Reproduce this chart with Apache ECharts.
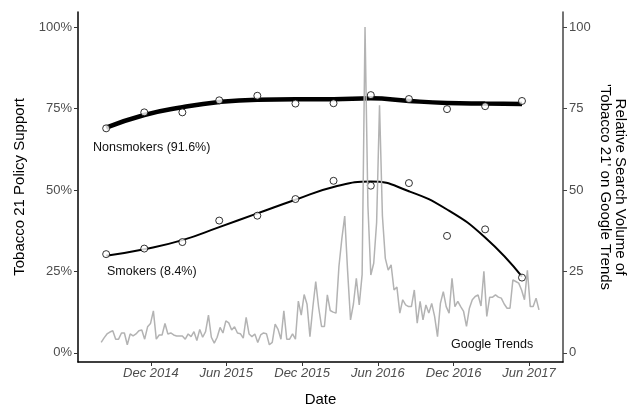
<!DOCTYPE html>
<html>
<head>
<meta charset="utf-8">
<script src="https://cdn.jsdelivr.net/npm/echarts@6/dist/echarts.min.js"></script>
<style>
  html, body { margin: 0; padding: 0; background: #fff; }
  #main { width: 629px; height: 407px; }
</style>
</head>
<body>
<div id="main"></div>
<script>
// survey waves (middle of each quarter)
var quarters = ['2014-08-15', '2014-11-15', '2015-02-15', '2015-05-15', '2015-08-15', '2015-11-15',
                '2016-02-15', '2016-05-15', '2016-08-15', '2016-11-15', '2017-02-15', '2017-05-15'];
var nonsmokers = [68.9, 73.8, 73.8, 77.5, 78.9, 76.5, 76.6, 79.1, 77.9, 74.8, 75.7, 77.3];
var nonsmokersFit = [69.1, 73.0, 75.4, 77.0, 77.7, 77.8, 77.8, 78.1, 77.3, 76.7, 76.5, 76.4];
var smokers = [30.3, 32.0, 34.0, 40.6, 42.1, 47.2, 52.8, 51.3, 52.1, 35.9, 37.9, 23.1];
var smokersFit = [29.8, 31.8, 34.6, 38.6, 42.8, 47.0, 50.9, 52.6, 49.6, 44.0, 35.4, 23.4];

// google trends, weekly from 3 Aug 2014
var trendsStart = [2014, 7, 3];
var trends = [
  3.2, 4.6, 5.8, 6.4, 6.8, 4.2, 4.2, 6.1, 6.1, 2.5,
  5.8, 5.2, 5.8, 6.8, 7.0, 4.2, 8.0, 9.0, 12.9, 4.2,
  5.5, 5.5, 9.0, 5.8, 6.1, 5.5, 5.2, 5.2, 5.2, 4.2,
  5.8, 5.0, 6.5, 3.8, 7.2, 4.8, 6.5, 11.6, 4.8, 3.0,
  4.8, 7.8, 6.1, 9.8, 9.2, 7.0, 8.0, 6.1, 5.9, 4.5,
  10.9, 5.8, 5.0, 5.8, 3.2, 5.5, 6.1, 5.9, 2.5, 3.2,
  8.8, 7.2, 4.2, 12.9, 4.2, 4.2, 5.8, 4.2, 15.9, 11.6,
  17.9, 14.9, 5.0, 14.0, 21.9, 14.0, 8.1, 8.1, 17.8, 13.0,
  12.5, 12.2, 26.5, 35.0, 42.0, 25.0, 10.1, 15.0, 22.9, 14.7,
  24.0, 100, 45, 23.9, 27.5, 40, 76, 42, 29.0, 25.4,
  27.0, 19.3, 20.2, 12.2, 16.3, 14.7, 14.2, 14.2, 19.3, 9.1,
  15.8, 10.1, 14.7, 12.2, 15.2, 11.2, 5.0, 15.2, 18.8, 14.2,
  12.2, 22.9, 14.2, 15.8, 14.2, 12.7, 8.1, 13.7, 16.3, 17.3,
  17.8, 14.4, 25.0, 11.2, 17.1, 17.1, 17.8, 17.1, 16.8, 15.0,
  13.7, 13.7, 22.4, 21.9, 21.4, 19.3, 16.3, 25.3, 14.2, 14.2,
  16.8, 13.2
];

var xTickDates = ['2014-12-01', '2015-06-01', '2015-12-01', '2016-06-01', '2016-12-01', '2017-06-01'];
var xTickLabels = ['Dec 2014', 'Jun 2015', 'Dec 2015', 'Jun 2016', 'Dec 2016', 'Jun 2017'];
var yTicks = [0, 25, 50, 75, 100];

function ts(s) {
  var p = s.split('-');
  return new Date(+p[0], +p[1] - 1, +p[2]).getTime();
}

var myChart = echarts.init(document.getElementById('main'));

var tickTs = xTickDates.map(ts);
var trendData = [];
for (var i = 0; i < trends.length; i++) {
  trendData.push([new Date(trendsStart[0], trendsStart[1], trendsStart[2] + i * 7).getTime(), trends[i]]);
}
function pair(vals) {
  return vals.map(function (v, i) { return [ts(quarters[i]), v]; });
}

var font = 'Liberation Sans, Arial, Helvetica, sans-serif';

option = {
  animation: false,
  backgroundColor: '#fff',
  textStyle: { fontFamily: font },
  grid: { left: 78, right: 66, top: 12, bottom: 45, containLabel: false, outerBoundsMode: 'none' },
  xAxis: {
    type: 'value',
    min: ts('2014-06-08'),
    max: ts('2017-08-22'),
    name: 'Date',
    nameLocation: 'middle',
    nameGap: 30,
    nameTextStyle: { color: '#000', fontSize: 15, fontFamily: font },
    splitLine: { show: false },
    axisLine: { onZero: false, lineStyle: { color: '#000', width: 1.5 } },
    axisTick: { length: 4, lineStyle: { color: '#333' }, customValues: tickTs },
    axisLabel: {
      customValues: tickTs,
      margin: 5,
      color: '#4d4d4d',
      fontSize: 13,
      fontStyle: 'italic',
      fontFamily: font,
      formatter: function (v) {
        var k = tickTs.indexOf(v);
        return k >= 0 ? xTickLabels[k] : '';
      }
    }
  },
  yAxis: [{
    type: 'value',
    min: -2.8,
    max: 104.6,
    name: 'Tobacco 21 Policy Support',
    nameLocation: 'middle',
    nameGap: 48,
    nameTextStyle: { color: '#000', fontSize: 15, fontFamily: font },
    splitLine: { show: false },
    axisLine: { show: true, onZero: false, lineStyle: { color: '#000', width: 1.5 } },
    axisTick: { show: true, length: 4, lineStyle: { color: '#333' }, customValues: yTicks },
    axisLabel: { customValues: yTicks, margin: 6, color: '#4d4d4d', fontSize: 13, fontFamily: font, formatter: '{value}%' }
  }, {
    type: 'value',
    position: 'right',
    min: -2.8,
    max: 104.6,
    splitLine: { show: false },
    axisLine: { show: true, onZero: false, lineStyle: { color: '#444', width: 1.5 } },
    axisTick: { show: true, length: 4, lineStyle: { color: '#444' }, customValues: yTicks },
    axisLabel: { customValues: yTicks, margin: 6, color: '#4d4d4d', fontSize: 13, fontFamily: font }
  }],
  graphic: [
    { type: 'text', left: 93, top: 141, style: { text: 'Nonsmokers (91.6%)', fill: '#111', font: '12.5px ' + font } },
    { type: 'text', left: 107, top: 265, style: { text: 'Smokers (8.4%)', fill: '#111', font: '12.5px ' + font } },
    { type: 'text', left: 451, top: 338, style: { text: 'Google Trends', fill: '#111', font: '12.5px ' + font } },
    // right axis title, two lines reading top to bottom
    { type: 'text', x: 620, y: 187, rotation: -Math.PI / 2,
      style: { text: 'Relative Search Volume of', fill: '#000', font: '15px ' + font, align: 'center', verticalAlign: 'middle' } },
    { type: 'text', x: 605, y: 187, rotation: -Math.PI / 2,
      style: { text: '\'Tobacco 21\' on Google Trends', fill: '#000', font: '15px ' + font, align: 'center', verticalAlign: 'middle' } }
  ],
  series: [
    {
      name: 'nonsmokers fit',
      type: 'line',
      smooth: 0.5,
      showSymbol: false,
      lineStyle: { color: '#000', width: 4.5 },
      data: pair(nonsmokersFit),
      z: 2
    },
    {
      name: 'smokers fit',
      type: 'line',
      smooth: 0.5,
      showSymbol: false,
      lineStyle: { color: '#000', width: 2 },
      data: pair(smokersFit),
      z: 2
    },
    {
      name: 'nonsmokers',
      type: 'scatter',
      symbolSize: 7,
      itemStyle: { color: '#fff', borderColor: '#000', borderWidth: 1 },
      data: pair(nonsmokers),
      z: 3
    },
    {
      name: 'smokers',
      type: 'scatter',
      symbolSize: 7,
      itemStyle: { color: '#fff', borderColor: '#000', borderWidth: 1 },
      data: pair(smokers),
      z: 3
    },
    {
      name: 'Google Trends',
      type: 'line',
      showSymbol: false,
      lineStyle: { color: '#b3b3b3', width: 1.5 },
      data: trendData,
      z: 4
    }
  ]
};

myChart.setOption(option);
</script>
</body>
</html>
